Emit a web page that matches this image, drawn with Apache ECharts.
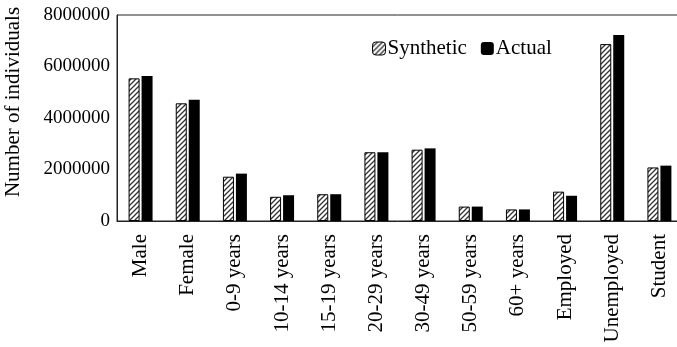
<!DOCTYPE html>
<html>
<head>
<meta charset="utf-8">
<script src="https://cdn.jsdelivr.net/npm/echarts@6/dist/echarts.min.js"></script>
<style>html,body{margin:0;padding:0;background:#fff;}#c{width:677px;height:347px;}</style>
</head>
<body>
<div id="c"></div>
<script>
const categories = ['Male','Female','0-9 years','10-14 years','15-19 years','20-29 years','30-49 years','50-59 years','60+ years','Employed','Unemployed','Student'];
const synthetic = [5540000,4570000,1720000,940000,1040000,2670000,2770000,560000,450000,1140000,6870000,2080000];
const actual    = [5630000,4710000,1840000,1000000,1040000,2670000,2820000,560000,450000,980000,7220000,2150000];
const yTicks = [0,2000000,4000000,6000000,8000000];

const FONT = '"Liberation Serif", "Times New Roman", serif';

function hatch() {
  const s = 5;
  const cv = document.createElement('canvas');
  cv.width = s; cv.height = s;
  const g = cv.getContext('2d');
  g.fillStyle = '#fff'; g.fillRect(0,0,s,s);
  g.strokeStyle = '#333'; g.lineWidth = 1.3;
  g.beginPath();
  g.moveTo(0,s); g.lineTo(s,0);
  g.moveTo(-1,1); g.lineTo(1,-1);
  g.moveTo(s-1,s+1); g.lineTo(s+1,s-1);
  g.stroke();
  return cv;
}

const chart = echarts.init(document.getElementById('c'), null, {renderer:'canvas'});
chart.setOption({
  animation: false,
  backgroundColor: '#fff',
  grid: {left:117, right:-6, top:15, bottom:126, show:true, borderColor:'#222', borderWidth:1, backgroundColor:'transparent', containLabel:false, outerBoundsMode:'none'},
  legend: {
    left: 367, top: 33, itemWidth: 13, itemHeight: 13, itemGap: 14,
    textStyle: {fontFamily: FONT, fontSize: 21, color: '#000', padding:[0,0,0,-3]},
    data: [
      {name:'Synthetic', itemStyle:{color:{image:hatch(), repeat:'repeat'}, borderColor:'#000', borderWidth:1}},
      {name:'Actual', itemStyle:{color:'#000'}}
    ]
  },
  xAxis: {
    type:'category', data: categories,
    axisLine:{lineStyle:{color:'#222', width:1}},
    axisTick:{show:false},
    axisLabel:{rotate:90, interval:0, margin:13, fontFamily:FONT, fontSize:21, color:'#000'}
  },
  yAxis: {
    type:'value', min:0, max:8000000, interval:2000000,
    name:'Number of individuals', nameLocation:'middle', nameGap:93,
    nameTextStyle:{fontFamily:FONT, fontSize:21, color:'#000', padding:[0,0,0,32]},
    axisLine:{show:true, lineStyle:{color:'#222', width:1}},
    axisTick:{show:false},
    splitLine:{show:false},
    axisLabel:{margin:7, fontFamily:FONT, fontSize:19, color:'#000', formatter: v => String(v)}
  },
  series: [
    {name:'Synthetic', type:'bar', data: synthetic, barWidth:11, barGap:'18%',
     itemStyle:{color:{image:hatch(), repeat:'repeat'}, borderColor:'#000', borderWidth:1}},
    {name:'Actual', type:'bar', data: actual, barWidth:11,
     itemStyle:{color:'#000'}}
  ]
});
</script>
</body>
</html>
